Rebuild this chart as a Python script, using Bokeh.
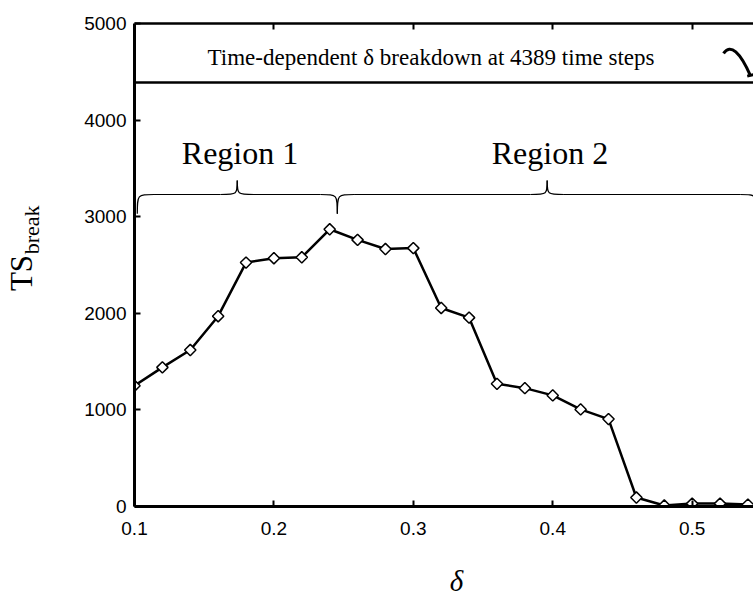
import math
from bokeh.plotting import figure
from bokeh.layouts import row, column
from bokeh.models import Range1d, LinearAxis, FixedTicker, Label, Span
from bokeh.embed import file_html
from bokeh.resources import INLINE

# ---- data ----
delta = [0.10, 0.12, 0.14, 0.16, 0.18, 0.20, 0.22, 0.24, 0.26, 0.28, 0.30, 0.32,
         0.34, 0.36, 0.38, 0.40, 0.42, 0.44, 0.46, 0.48, 0.50, 0.52, 0.54]
ts_break = [1250, 1440, 1620, 1970, 2525, 2570, 2580, 2870, 2760, 2665, 2675, 2055,
            1955, 1270, 1225, 1150, 1005, 905, 93, 10, 30, 30, 20]

x_ticks = [0.1, 0.2, 0.3, 0.4, 0.5]
y_ticks = [0, 1000, 2000, 3000, 4000, 5000]

breakdown_steps = 4389
breakdown_text = "Time-dependent \u03b4 breakdown at 4389 time steps"

region_names = ["Region 1", "Region 2"]
brace_left = [0.102, 0.2455]
brace_right = [0.2455, 0.5465]
brace_tip = [0.1737, 0.396]
brace_end_y = 3030
brace_mid_y = 3230
brace_peak_y = 3375
curl = 0.012

LEFT_W = 60
BOTTOM_H = 30
W, H = 753, 595
TOP_H = H - BOTTOM_H

# ---- left strip holding the y-axis title (pixel coordinates) ----
lab = figure(width=LEFT_W, height=TOP_H, output_backend="svg", toolbar_location=None,
             x_range=Range1d(0, LEFT_W), y_range=Range1d(TOP_H, 0),
             x_axis_location=None, y_axis_location=None,
             min_border=0, min_border_left=0, min_border_right=0,
             min_border_top=0, min_border_bottom=0)
lab.grid.visible = False
lab.outline_line_color = None
lab.add_layout(Label(x=21, y=313, text="TS", angle=math.pi / 2,
                     text_align="left", text_baseline="alphabetic",
                     text_font="Liberation Serif", text_font_size="31px",
                     text_color="black"))
lab.add_layout(Label(x=31, y=270, text="break", angle=math.pi / 2,
                     text_align="left", text_baseline="alphabetic",
                     text_font="Liberation Serif", text_font_size="22px",
                     text_color="black"))

# ---- bottom strip holding the x-axis title (pixel coordinates, y up) ----
bot = figure(width=W, height=BOTTOM_H, output_backend="svg", toolbar_location=None,
             x_range=Range1d(0, W), y_range=Range1d(0, BOTTOM_H),
             x_axis_location=None, y_axis_location=None,
             min_border=0, min_border_left=0, min_border_right=0,
             min_border_top=0, min_border_bottom=0)
bot.grid.visible = False
bot.outline_line_color = None
bot.add_layout(Label(x=456, y=15, text="\u03b4", text_align="center",
                     text_baseline="alphabetic", text_font="Liberation Serif",
                     text_font_style="italic", text_font_size="29px",
                     text_color="black"))

# ---- main plot ----
p = figure(width=W - LEFT_W, height=TOP_H, output_backend="svg", toolbar_location=None,
           x_range=Range1d(0.1, 0.544), y_range=Range1d(0, 5000),
           min_border_left=134 - LEFT_W, min_border_right=0, min_border_top=23,
           min_border_bottom=TOP_H - 506, x_axis_location="below")
p.outline_line_color = None
p.xgrid.visible = False
p.ygrid.visible = False

for ax in (p.xaxis[0], p.yaxis[0]):
    ax.axis_line_width = 3
    ax.axis_line_color = "black"
    ax.major_tick_in = 6
    ax.major_tick_out = 0
    ax.major_tick_line_width = 2
    ax.minor_tick_line_color = None
    ax.major_label_text_font = "Liberation Sans"
    ax.major_label_text_font_size = "19px"
    ax.major_label_text_color = "black"
p.xaxis[0].ticker = FixedTicker(ticks=x_ticks)
p.yaxis[0].ticker = FixedTicker(ticks=y_ticks)
p.xaxis[0].major_label_standoff = 15
p.yaxis[0].major_label_standoff = 8

top = LinearAxis(ticker=FixedTicker(ticks=x_ticks[1:]))
top.axis_line_width = 2.5
top.major_tick_in = 6
top.major_tick_out = 0
top.major_tick_line_width = 2
top.minor_tick_line_color = None
top.major_label_text_font_size = "0px"
top.major_label_text_color = None
top.major_label_standoff = 0
p.add_layout(top, "above")

# breakdown line
p.add_layout(Span(location=breakdown_steps, dimension="width",
                  line_color="black", line_width=2.5))
p.add_layout(Label(x=0.3127, y=4650, text=breakdown_text, text_align="center",
                   text_baseline="alphabetic", text_font="Liberation Serif",
                   text_font_size="23px", text_color="black"))

# curved mark at top right
p.bezier(x0=[0.5225], y0=[4690], x1=[0.5418], y1=[4460],
         cx0=[0.5275], cy0=[4800], cx1=[0.5345], cy1=[4700],
         line_color="black", line_width=3)
p.segment(x0=[0.5395], y0=[4455], x1=[0.5440], y1=[4470],
          line_color="black", line_width=3)

# braces
bx0, by0, bx1, by1, bcx0, bcy0, bcx1, bcy1 = [], [], [], [], [], [], [], []
sx0, sy0, sx1, sy1 = [], [], [], []
for L, R, C in zip(brace_left, brace_right, brace_tip):
    segs = [
        ((L, brace_end_y), (L + curl, brace_mid_y), (L, brace_mid_y)),
        ((C - curl, brace_mid_y), (C, brace_peak_y), (C, brace_mid_y)),
        ((C, brace_peak_y), (C + curl, brace_mid_y), (C, brace_mid_y)),
        ((R - curl, brace_mid_y), (R, brace_end_y), (R, brace_mid_y)),
    ]
    for (a, b, c) in segs:
        bx0.append(a[0]); by0.append(a[1]); bx1.append(b[0]); by1.append(b[1])
        bcx0.append(c[0]); bcy0.append(c[1]); bcx1.append(c[0]); bcy1.append(c[1])
    sx0 += [L + curl, C + curl]
    sx1 += [C - curl, R - curl]
    sy0 += [brace_mid_y, brace_mid_y]
    sy1 += [brace_mid_y, brace_mid_y]
p.bezier(x0=bx0, y0=by0, x1=bx1, y1=by1, cx0=bcx0, cy0=bcy0, cx1=bcx1, cy1=bcy1,
         line_color="black", line_width=1.2)
p.segment(x0=sx0, y0=sy0, x1=sx1, y1=sy1, line_color="black", line_width=1.2)

for name, C in zip(region_names, brace_tip):
    p.add_layout(Label(x=C + 0.002, y=3660, text=name, text_align="center",
                       text_baseline="alphabetic", text_font="Liberation Serif",
                       text_font_size="32px", text_color="black"))

# data
p.line(delta, ts_break, line_color="black", line_width=2.5)
p.scatter(delta, ts_break, marker="square", angle=math.pi / 4, size=8,
          fill_color="white", line_color="black", line_width=1.5)

layout = column(row(lab, p), bot)
open("out.html", "w").write(file_html(layout, INLINE))
